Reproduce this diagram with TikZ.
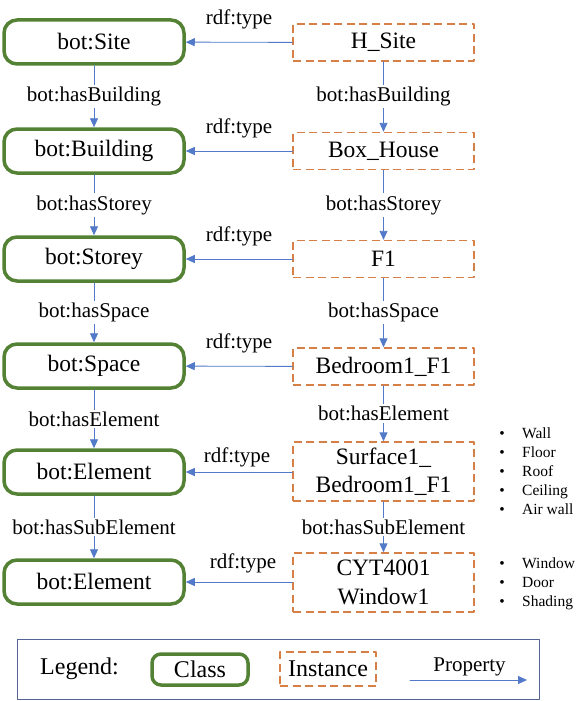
\documentclass[tikz,border=0pt]{standalone}
\usepackage{fontspec}
\setmainfont{Liberation Serif}
\usepackage{xcolor}
\usetikzlibrary{arrows.meta,positioning}
\definecolor{clsgreen}{RGB}{84,130,53}
\definecolor{insorange}{RGB}{214,128,72}
\definecolor{propblue}{RGB}{82,122,200}
\definecolor{frameblue}{RGB}{84,100,150}

\begin{document}
\begin{tikzpicture}[x=1pt,y=-1pt,line cap=round,line join=round,
  cls/.style={draw=clsgreen,line width=3.5pt,rounded corners=13pt,minimum width=180pt,minimum height=44pt,font=\fontsize{23.5}{28}\selectfont},
  ins/.style={draw=insorange,line width=1.4pt,dash pattern=on 8pt off 4.5pt,line cap=butt,minimum width=181pt,minimum height=37pt,align=center,font=\fontsize{23.5}{28.5}\selectfont},
  prop/.style={draw=propblue,line width=0.9pt,-{Triangle[length=9pt,width=8pt]}},
  lbl/.style={font=\fontsize{21}{24}\selectfont,fill=white,inner sep=2pt},
  typ/.style={font=\fontsize{21}{24}\selectfont},
  itm/.style={font=\fontsize{15.5}{18}\selectfont,anchor=base west,inner sep=0pt}]
\useasboundingbox (0,0) rectangle (586,701);
% classes
\node[cls] (site) at (94,42) {bot:Site};
\node[cls] (building) at (94,151) {bot:Building};
\node[cls] (storey) at (94,259) {bot:Storey};
\node[cls] (space) at (94,366) {bot:Space};
\node[cls] (element) at (94,472) {bot:Element};
\node[cls] (subelement) at (94,582) {bot:Element};
% instances
\node[ins] (hsite) at (383.5,42.5) {H\_Site};
\node[ins] (boxhouse) at (383.5,151) {Box\_House};
\node[ins] (fone) at (383.5,259) {F1};
\node[ins] (bedroom) at (383.5,366.5) {Bedroom1\_F1};
\node[ins,minimum height=59pt] (surface) at (383.5,471.5) {Surface1\_\\Bedroom1\_F1};
\node[ins,minimum height=59pt] (window) at (383.5,582.5) {CYT4001\\Window1};
% class hierarchy
\draw[prop] (site) -- node[lbl] {bot:hasBuilding} (building);
\draw[prop] (building) -- node[lbl] {bot:hasStorey} (storey);
\draw[prop] (storey) -- node[lbl] {bot:hasSpace} (space);
\draw[prop] (space) -- node[lbl] {bot:hasElement} (element);
\draw[prop] (element) -- node[lbl] {bot:hasSubElement} (subelement);
% instance hierarchy
\draw[prop] (hsite) -- node[lbl] {bot:hasBuilding} (boxhouse);
\draw[prop] (boxhouse) -- node[lbl] {bot:hasStorey} (fone);
\draw[prop] (fone) -- node[lbl] {bot:hasSpace} (bedroom);
\draw[prop] (bedroom) -- node[lbl] {bot:hasElement} (surface);
\draw[prop] (surface) -- node[lbl] {bot:hasSubElement} (window);
% rdf:type
\draw[prop] (hsite) -- node[typ,above=9pt] {rdf:type} (site);
\draw[prop] (boxhouse) -- node[typ,above=9pt] {rdf:type} (building);
\draw[prop] (fone) -- node[typ,above=9pt] {rdf:type} (storey);
\draw[prop] (bedroom) -- node[typ,above=9pt] {rdf:type} (space);
\draw[prop] (surface.west|-element) -- node[typ,above=1pt,xshift=-2pt] {rdf:type} (element);
\draw[prop] (window.west|-subelement) -- node[typ,above=5pt,xshift=4pt] {rdf:type} (subelement);
% element types
\foreach \t [count=\i] in {Wall,Floor,Roof,Ceiling,Air wall}{
  \node[itm,anchor=base] (dota\i) at (502,419+19*\i) {\textbullet};
  \node[itm] (itema\i) at (522,419+19*\i) {\t};
}
\foreach \t [count=\i] in {Window,Door,Shading}{
  \node[itm,anchor=base] (dotb\i) at (502,549+19*\i) {\textbullet};
  \node[itm] (itemb\i) at (522,549+19*\i) {\t};
}
% legend
\node[draw=frameblue,line width=1pt,minimum width=522pt,minimum height=60pt] (legend) at (278,669) {};
\node[font=\fontsize{24}{28}\selectfont] (legendtext) at (79.5,669) {Legend:};
\node[cls,minimum width=96pt,minimum height=31pt,rounded corners=9pt,font=\fontsize{24}{28}\selectfont] (legcls) at (200,669.5) {Class};
\node[ins,minimum width=96pt,minimum height=34pt,font=\fontsize{24}{28}\selectfont] (legins) at (328,669) {Instance};
\coordinate (pstart) at (410,680);
\coordinate (pend) at (527,680);
\draw[prop] (pstart) -- node[typ,above,pos=0.5,xshift=1pt] {Property} (pend);
\end{tikzpicture}
\end{document}
